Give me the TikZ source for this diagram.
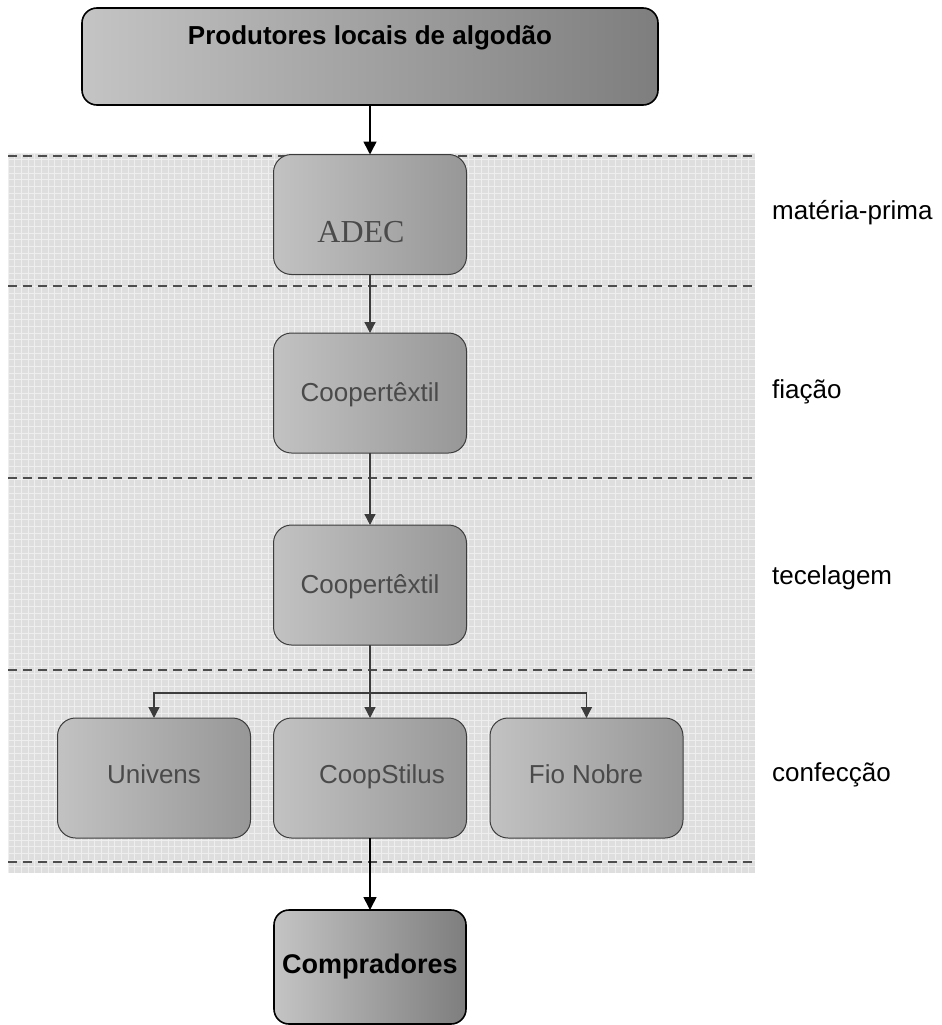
\documentclass[tikz,border=0pt]{standalone}
\usepackage{fontspec}
\setmainfont{Liberation Sans}
\newfontfamily\adecfont{Liberation Serif}
\usetikzlibrary{arrows.meta}
\definecolor{bandbg}{HTML}{DEDEDE}
\definecolor{bandgrid}{HTML}{EEEEEE}
\definecolor{dashcol}{HTML}{4D4D4D}
\definecolor{innerline}{HTML}{3C3C3C}
\definecolor{innertext}{HTML}{4A4A4A}
\definecolor{outerL}{HTML}{C4C4C4}
\definecolor{outerR}{HTML}{7E7E7E}
\definecolor{innerL}{HTML}{C2C2C2}
\definecolor{innerR}{HTML}{979797}
\tikzset{
  outerbox/.style={draw=black, line width=1.6pt, rounded corners=15pt,
    left color=outerL, right color=outerR, inner sep=0pt, outer sep=0pt},
  innerbox/.style={draw=innerline, line width=1pt, rounded corners=18pt,
    left color=innerL, right color=innerR, inner sep=0pt, outer sep=0pt,
    minimum width=193pt, minimum height=120pt},
  innertxt/.style={text=innertext, inner sep=0pt, anchor=base, font=\fontsize{26}{30}\selectfont},
  boldtext/.style={font=\bfseries\fontsize{26}{30}\selectfont, text=black},
  stagelabel/.style={anchor=west, inner sep=0pt, font=\fontsize{26}{30}\selectfont},
  blackarrow/.style={draw=black, line width=1.6pt, -{Triangle[length=13pt,width=13pt]}},
  grayarrow/.style={draw=innerline, line width=1.3pt, -{Triangle[length=11pt,width=11pt]}},
  bandline/.style={draw=dashcol, line width=1.3pt, dash pattern=on 9pt off 6pt},
}
\begin{document}
\begin{tikzpicture}[x=1pt,y=-1pt]
\useasboundingbox (0,0) rectangle (942,1025);
% background band with grid
\fill[bandbg] (8,153) rectangle (755,873);
\foreach \gx in {8,14.67,...,755}{\draw[bandgrid, line width=0.9pt] (\gx,153) -- (\gx,873);}
\foreach \gy in {153,159.67,...,873}{\draw[bandgrid, line width=0.9pt] (8,\gy) -- (755,\gy);}
\foreach \dy in {156,286,478,670,862}{\draw[bandline] (8,\dy) -- (755,\dy);}

% top box
\node[outerbox, minimum width=576pt, minimum height=97pt] (prod) at (370,56.5) {};
\node[boldtext, inner sep=0pt] (prodtext) at (370,38) {Produtores locais de algodão};

% stages
\node[innerbox] (adec) at (370,214.5) {};
\node[text=innertext, inner sep=0pt, font=\adecfont\fontsize{32}{36}\selectfont] (adectext) at (361,232) {ADEC};
\node[innerbox] (coop1) at (370,393) {};
\node[innertxt] (coop1t) at (370,401) {Coopertêxtil};
\node[innerbox] (coop2) at (370,585) {};
\node[innertxt] (coop2t) at (370,593) {Coopertêxtil};
\node[innerbox] (univ) at (154,778) {};
\node[innertxt] (univt) at (154,783) {Univens};
\node[innerbox] (coopst) at (370,778) {};
\node[innertxt] (coopstt) at (382,783) {CoopStilus};
\node[innerbox] (fio) at (586.5,778) {};
\node[innertxt] (fiot) at (586,783) {Fio Nobre};

% buyers
\node[outerbox, minimum width=192pt, minimum height=114pt, boldtext,
  font=\bfseries\fontsize{27}{31}\selectfont] (comp) at (370,967) {Compradores};

% stage labels
\node[stagelabel] (lmat) at (772,213) {matéria-prima};
\node[stagelabel] (lfia) at (772,392) {fiação};
\node[stagelabel] (ltec) at (772,578) {tecelagem};
\node[stagelabel] (lcon) at (772,775) {confecção};

% connectors
\coordinate (branch) at (370,693);
\draw[blackarrow] (prod.south) -- (adec.north);
\draw[grayarrow] (adec.south) -- (coop1.north);
\draw[grayarrow] (coop1.south) -- (coop2.north);
\draw[grayarrow] (coop2.south) -- (coopst.north);
\draw[grayarrow] (branch) -| (univ.north);
\draw[grayarrow] (branch) -| (fio.north);
\draw[blackarrow] (coopst.south) -- (comp.north);
\end{tikzpicture}
\end{document}
